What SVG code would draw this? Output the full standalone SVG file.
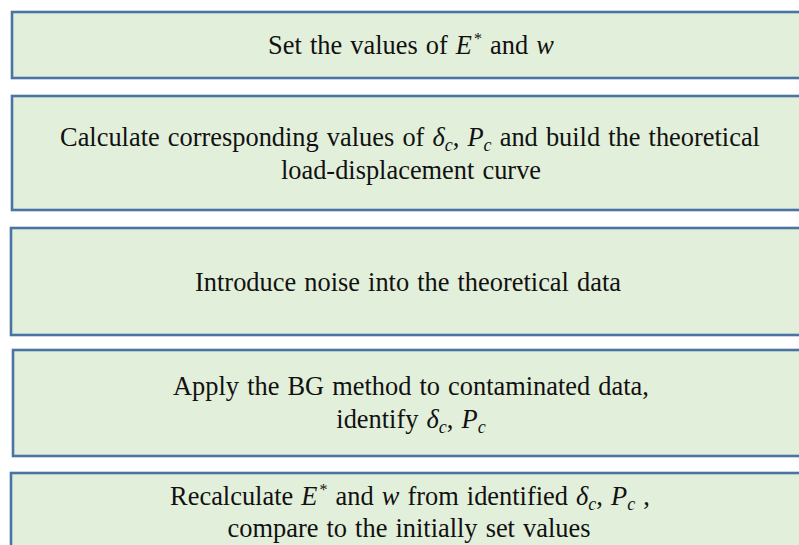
<svg xmlns="http://www.w3.org/2000/svg" width="799" height="545" viewBox="0 0 799 545">
<style>
.box{fill:#e2efda;stroke:#4a74a4;stroke-width:2.6}
.t{font-family:"Liberation Serif","Times New Roman",serif;font-size:26.4px;word-spacing:1.5px;fill:#111;text-anchor:middle}
.m{font-style:italic}
</style>
<rect width="799" height="545" fill="#fff"/>
<g id="n1">
<rect class="box" x="12" y="12" width="800" height="66"/>
<text class="t" x="411" y="54">Set the values of <tspan class="m">E</tspan><tspan font-size="16" dx="2" dy="-10">*</tspan><tspan dy="10"> and </tspan><tspan class="m">w</tspan></text>
</g>
<g id="n2">
<rect class="box" x="12" y="96" width="800" height="114"/>
<text class="t" x="410" y="146">Calculate corresponding values of <tspan class="m">δ</tspan><tspan class="m" font-size="18" dy="5">c</tspan><tspan dy="-5">, </tspan><tspan class="m">P</tspan><tspan class="m" font-size="18" dy="5">c</tspan><tspan dy="-5"> and build the theoretical</tspan></text>
<text class="t" x="411" y="179">load-displacement  curve</text>
</g>
<g id="n3">
<rect class="box" x="11" y="228" width="800" height="107"/>
<text class="t" x="408" y="291">Introduce noise into the theoretical data</text>
</g>
<g id="n4">
<rect class="box" x="13" y="350" width="800" height="106"/>
<text class="t" x="411" y="395">Apply the BG method to contaminated data,</text>
<text class="t" x="411" y="428">identify <tspan class="m">δ</tspan><tspan class="m" font-size="18" dy="5">c</tspan><tspan dy="-5">, </tspan><tspan class="m">P</tspan><tspan class="m" font-size="18" dy="5">c</tspan></text>
</g>
<g id="n5">
<rect class="box" x="11" y="473" width="800" height="100"/>
<text class="t" x="410" y="505">Recalculate <tspan class="m">E</tspan><tspan font-size="16" dx="2" dy="-10">*</tspan><tspan dy="10"> and </tspan><tspan class="m">w</tspan> from identified <tspan class="m">δ</tspan><tspan class="m" font-size="18" dy="5">c</tspan><tspan dy="-5">, </tspan><tspan class="m">P</tspan><tspan class="m" font-size="18" dy="5">c</tspan><tspan dy="-5"> ,</tspan></text>
<text class="t" x="409" y="537">compare to the initially set values</text>
</g>
<g id="connectors"></g>
</svg>
